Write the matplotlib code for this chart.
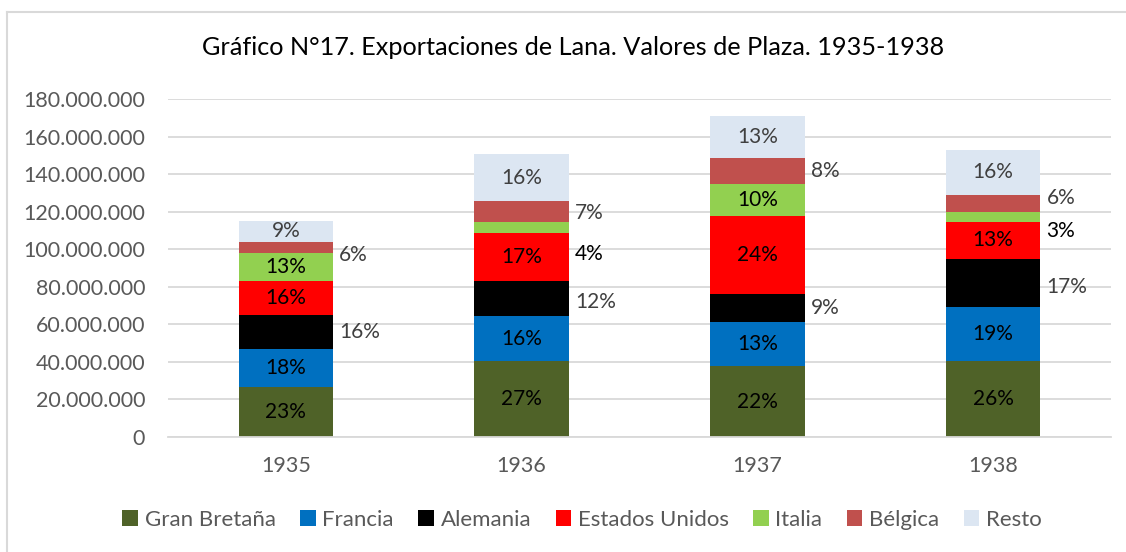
import numpy as np
import matplotlib.pyplot as plt
from matplotlib.patches import Patch
from matplotlib.lines import Line2D

plt.rcParams['font.family'] = ['Lato', 'DejaVu Sans']

years = ['1935', '1936', '1937', '1938']
series = ['Gran Bretaña', 'Francia', 'Alemania', 'Estados Unidos', 'Italia', 'Bélgica', 'Resto']
colors = ['#4F6228', '#0070C0', '#000000', '#FF0000', '#92D050', '#C0504D', '#DCE6F2']

# values in millions of pesos
gran_bretana = [26.4, 40.5, 37.8, 40.5]
francia = [20.3, 23.9, 23.4, 28.6]
alemania = [18.4, 18.5, 15.0, 25.7]
estados_unidos = [18.2, 26.0, 41.6, 19.9]
italia = [14.5, 5.8, 16.8, 5.3]
belgica = [6.3, 11.0, 14.1, 8.7]
resto = [10.8, 24.8, 22.1, 24.4]

# percent labels as printed on the chart
lab_gb = ['23%', '27%', '22%', '26%']
lab_fr = ['18%', '16%', '13%', '19%']
lab_al = ['16%', '12%', '9%', '17%']
lab_eu = ['16%', '17%', '24%', '13%']
lab_it = ['13%', '4%', '10%', '3%']
lab_be = ['6%', '7%', '8%', '6%']
lab_re = ['9%', '16%', '13%', '16%']

values = [gran_bretana, francia, alemania, estados_unidos, italia, belgica, resto]
labels = [lab_gb, lab_fr, lab_al, lab_eu, lab_it, lab_be, lab_re]

# which labels sit outside the bar (series index -> years) and their vertical nudge in px
outside = {2: [0, 1, 2, 3], 5: [0, 1, 2, 3], 4: [1, 3]}
nudge = {(5, 0): 8, (4, 1): 27, (5, 1): 2, (5, 3): -5, (4, 3): 14, (2, 1): 3, (2, 3): 4}

W, H = 1126, 552
fig = plt.figure(figsize=(W / 100, H / 100), dpi=100)
ax = fig.add_axes([168 / W, 1 - 437 / H, (1111 - 168) / W, (437 - 99) / H])

x = np.arange(len(years))
bw = 0.4
bottom = np.zeros(len(years))
for s, (vals, col) in enumerate(zip(values, colors)):
    v = np.array(vals) * 1e6
    ax.bar(x, v, bw, bottom=bottom, color=col, zorder=2)
    for i in range(len(years)):
        yc = bottom[i] + v[i] / 2
        dy = nudge.get((s, i), 0) / 1.389
        if i in outside.get(s, []):
            tc = '#000000' if s == 4 else '#404040'
            ax.annotate(labels[s][i], (x[i] + bw / 2, yc), xytext=(4.5, -dy),
                        textcoords='offset points', ha='left', va='center',
                        fontsize=15, color=tc)
        else:
            tc = '#404040' if s == 6 else '#000000'
            ax.text(x[i], yc, labels[s][i], ha='center', va='center',
                    fontsize=15, color=tc)
    bottom += v

ax.set_xlim(-0.5, 3.5)
ax.set_ylim(0, 180e6)
yt = np.arange(0, 180e6 + 1, 20e6)
ax.set_yticks(yt)
ax.set_yticklabels([f"{t:,.0f}".replace(',', '.') for t in yt])
ax.set_xticks(x)
ax.set_xticklabels(years)
ax.tick_params(length=0, labelsize=15.5, colors='#595959')
ax.tick_params(axis='y', pad=16.5)
ax.tick_params(axis='x', pad=14)
ax.grid(axis='y', color='#D9D9D9', lw=1.3, zorder=0)
for sp in ['top', 'right', 'left']:
    ax.spines[sp].set_visible(False)
ax.spines['bottom'].set_color('#D9D9D9')
ax.spines['bottom'].set_linewidth(1.3)

fig.text(573 / W, 1 - 48 / H, 'Gráfico N°17. Exportaciones de Lana. Valores de Plaza. 1935-1938',
         ha='center', va='center', fontsize=18.2, color='#000000')

handles = [Patch(facecolor=c, edgecolor='none') for c in colors]
fig.legend(handles, series, loc='center', bbox_to_anchor=(582 / W, 1 - 520 / H), ncol=7,
           frameon=False, fontsize=16, labelcolor='#595959', handlelength=0.7,
           handleheight=0.7, handletextpad=0.3, columnspacing=1.1)

# chart frame (only left and top edges are visible in the crop)
x0, y0 = 7 / W, 1 - 12 / H
fig.add_artist(Line2D([x0, x0], [0, y0], color='#D9D9D9', lw=1.5))
fig.add_artist(Line2D([x0, 1], [y0, y0], color='#D9D9D9', lw=1.5))

fig.savefig('out.png', dpi=100)
